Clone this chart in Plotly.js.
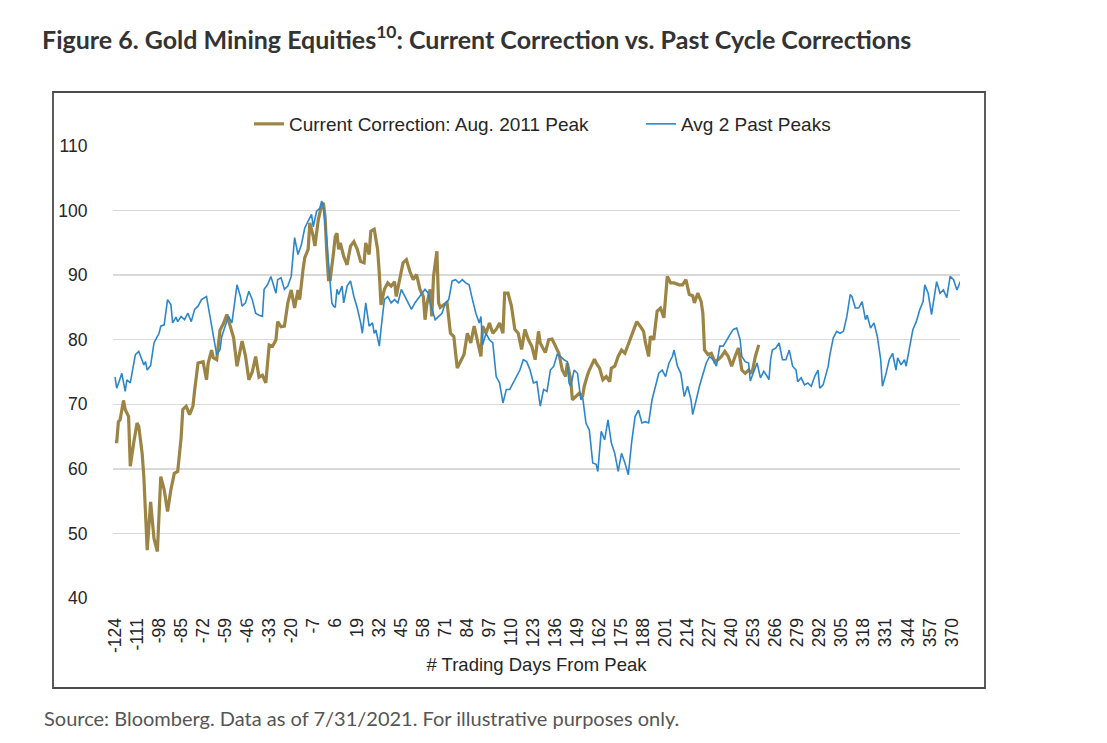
<!DOCTYPE html>
<html>
<head>
<meta charset="utf-8">
<script src="https://cdn.plot.ly/plotly-3.0.1.min.js"></script>
<style>
  html, body { margin: 0; padding: 0; background: #ffffff; }
  #chart { width: 1107px; height: 743px; }
</style>
</head>
<body>
<div id="chart"></div>
<script>
// ---- Data ----
const goldDays = [-124,-123,-122,-121,-119,-118,-116,-115,-113,-111,-110,-108,-107,-105,-103,-101,-99,-97,-95,-93,-91,-89,-87,-85,-84,-82,-80,-78,-77,-75,-72,-70,-69,-67,-66,-64,-62,-60,-58,-56,-54,-52,-49,-47,-45,-43,-41,-39,-37,-35,-33,-31,-29,-28,-26,-24,-22,-20,-18,-16,-15,-13,-12,-10,-9,-7,-6,-4,-2,-1,0,1,2,3,4,5,6,7,8,9,11,13,15,17,19,21,23,24,26,27,29,31,32,33,35,37,39,41,42,44,46,48,50,52,54,56,58,59,60,62,63,64,66,67,68,70,72,74,76,78,80,82,84,86,88,90,92,93,95,97,99,101,103,105,106,108,110,112,114,116,118,120,122,124,126,127,128,130,132,134,136,138,140,142,143,145,146,148,150,152,153,155,156,159,160,162,164,166,168,169,171,173,175,177,180,182,184,186,188,189,191,192,194,196,198,200,202,204,206,209,211,213,215,217,218,220,222,223,224,226,228,230,232,234,236,238,240,242,244,246,248,250,252,254,256];
const goldValues = [64.2,64.2,67.3,67.6,70.6,69.2,68.1,60.4,64.0,67.1,66.6,62.4,58.8,47.4,54.9,49.2,47.2,58.8,56.8,53.4,56.8,59.3,59.6,64.8,69.2,69.7,68.4,69.7,72.2,76.4,76.6,73.8,76.4,78.4,77.2,76.9,81.5,82.5,83.9,82.1,80.3,75.9,79.8,77.5,73.8,75.0,77.4,74.2,74.5,73.3,79.2,79.0,80.0,82.8,82.0,82.1,85.7,87.7,84.9,87.7,86.2,90.9,92.7,94.0,98.1,96.0,94.5,98.6,100.9,101.2,99.0,93.5,89.3,89.3,91.0,93.5,96.0,96.5,94.0,95.0,92.9,91.6,94.5,95.2,94.0,92.1,91.9,95.0,93.2,96.8,97.1,94.0,90.3,85.4,87.8,88.8,88.3,89.0,86.7,89.3,91.9,92.4,90.6,89.3,90.1,87.8,86.7,83.1,85.4,87.8,83.6,89.8,93.7,85.7,85.0,85.4,85.7,81.0,80.5,75.6,76.6,77.7,81.0,79.5,82.1,80.0,77.4,82.1,81.0,82.6,81.0,81.6,82.6,81.0,87.2,87.2,85.2,81.6,81.0,78.5,81.6,80.0,79.0,76.9,81.3,79.5,79.0,78.0,80.0,80.1,79.0,77.9,75.3,74.3,76.4,73.8,70.7,71.2,71.7,71.2,72.8,74.6,75.3,77.0,76.4,75.6,73.8,74.3,73.5,75.6,75.9,77.4,78.4,77.9,80.0,81.3,82.8,82.1,81.3,79.7,77.4,80.5,80.0,84.4,84.9,83.4,89.8,88.8,88.8,88.5,88.5,89.3,87.0,86.8,85.7,87.2,85.9,84.1,78.4,77.7,77.9,76.6,76.9,77.4,78.2,77.4,75.9,77.4,78.7,75.3,74.8,75.3,74.8,77.4,79.2];

const blueDays = [-124,-123,-121,-120,-118,-117,-115,-112,-110,-109,-107,-106,-105,-103,-101,-99,-98,-97,-95,-93,-91,-90,-88,-87,-85,-83,-81,-79,-77,-75,-73,-70,-69,-67,-66,-64,-62,-61,-59,-57,-55,-52,-50,-49,-47,-45,-43,-41,-39,-37,-36,-34,-32,-30,-29,-28,-26,-24,-22,-20,-18,-16,-14,-12,-10,-8,-7,-5,-3,-2,-1,0,1,2,3,4,5,6,7,8,10,11,13,15,17,19,21,22,24,26,28,29,30,32,33,35,37,39,41,43,45,47,49,51,53,56,59,61,62,65,67,69,71,73,75,77,79,81,83,85,87,89,91,92,93,95,97,99,101,103,105,107,109,111,113,115,117,119,121,123,125,127,129,131,133,135,137,139,141,143,144,145,147,149,151,152,154,156,158,160,161,163,165,167,169,171,173,175,177,179,181,183,185,187,189,191,193,195,197,199,201,203,205,206,208,210,212,214,216,217,219,221,223,225,227,229,231,233,235,237,239,241,243,245,246,248,250,251,253,255,257,259,261,262,263,264,266,268,270,272,274,276,278,279,281,283,285,287,289,291,292,294,297,298,300,302,304,306,308,310,311,313,315,317,319,320,322,324,326,328,329,331,333,335,337,338,340,342,343,345,347,349,351,353,354,356,358,361,363,365,367,369,371,373,375];
const blueValues = [74.2,72.5,74.0,74.8,72.0,73.8,73.3,77.7,78.2,77.5,76.1,76.6,75.3,76.0,79.5,80.5,81.0,82.1,82.3,86.2,85.4,82.6,83.5,82.8,83.6,83.1,84.1,82.8,84.7,85.2,86.2,86.7,85.2,82.6,81.0,77.7,78.5,80.5,82.1,83.6,82.6,88.5,86.7,85.2,85.7,87.5,86.2,84.1,83.8,83.6,87.8,88.5,89.8,88.0,87.2,89.3,89.6,87.8,88.3,89.8,95.8,93.2,94.7,97.3,98.4,99.4,97.5,99.9,100.4,101.5,100.5,98.0,95.5,91.9,88.3,85.7,85.2,85.0,87.8,87.0,88.3,85.7,88.3,89.1,86.7,84.9,82.6,81.0,85.7,82.1,82.6,81.0,81.5,79.0,81.6,86.2,86.7,85.7,86.2,85.7,87.8,86.7,85.7,84.7,85.7,86.7,87.8,87.2,85.7,83.1,83.6,84.1,85.7,86.2,89.1,89.3,88.8,89.3,88.8,88.5,86.2,84.1,82.6,83.6,79.2,81.0,80.0,79.5,74.3,73.3,70.2,72.3,72.3,73.3,74.3,75.3,76.9,76.6,75.3,73.3,73.5,69.7,72.3,72.0,75.3,75.9,77.7,77.4,76.9,76.6,73.3,72.8,75.3,74.8,70.7,71.2,67.1,66.0,60.9,60.7,59.6,65.8,64.5,67.6,64.0,62.4,59.6,62.4,60.9,59.1,64.2,68.1,69.1,67.1,67.3,67.1,70.7,72.8,74.8,75.3,74.3,76.4,77.4,78.4,75.9,74.8,71.2,72.8,70.7,68.4,70.7,72.8,74.6,76.4,77.4,76.9,75.9,79.0,79.0,80.0,80.8,81.6,81.8,80.0,77.4,76.6,76.4,73.6,75.0,76.4,74.1,75.1,74.3,73.8,76.9,78.4,78.7,79.5,76.9,76.9,78.4,75.9,75.3,73.5,74.1,73.0,73.3,72.8,74.3,75.3,72.5,73.0,75.9,77.7,80.3,81.3,81.0,81.3,83.6,87.0,86.7,84.9,84.9,85.9,83.1,83.8,81.8,82.6,80.5,76.9,72.8,74.6,76.9,77.9,75.3,77.2,76.1,76.9,75.9,78.7,81.6,82.8,84.6,85.9,88.5,87.2,83.9,89.0,87.2,87.7,86.5,89.8,89.3,87.7,89.0];

const seriesNames = ["Current Correction: Aug. 2011 Peak", "Avg 2 Past Peaks"];
const yTicks = [40, 50, 60, 70, 80, 90, 100, 110];
const xFirstTick = -124, xLastTick = 370, xTickStep = 13;

const chartTitle = "Figure 6. Gold Mining Equities<sup>10</sup>: Current Correction vs. Past Cycle Corrections";
const xTitle = "# Trading Days From Peak";
const sourceNote = "Source: Bloomberg. Data as of 7/31/2021. For illustrative purposes only.";

// x tick labels written with a plain hyphen, as in the reference
const xTickVals = [];
for (let v = xFirstTick; v <= xLastTick; v += xTickStep) xTickVals.push(v);
const xTickText = xTickVals.map(v => String(v));

// ---- Layout geometry ----
const W = 1107, H = 743;
const M = { l: 113, r: 147, t: 146, b: 145 };
const plotW = W - M.l - M.r, plotH = H - M.t - M.b;
const px = x => (x - M.l) / plotW;          // page px -> paper x
const py = y => (H - M.b - y) / plotH;      // page px -> paper y

const traces = [
  {
    x: goldDays, y: goldValues, name: seriesNames[0],
    type: "scatter", mode: "lines",
    line: { color: "#9C8444", width: 3.2 },
    legend: "legend",
    hoverinfo: "skip"
  },
  {
    x: blueDays, y: blueValues, name: seriesNames[1],
    type: "scatter", mode: "lines",
    line: { color: "#2C86CA", width: 1.6 },
    legend: "legend2",
    hoverinfo: "skip"
  }
];

const sansFamily = "Liberation Sans, Arial, sans-serif";
const tickFont = { family: sansFamily, size: 17.5, color: "#262626" };
const textFont = { family: sansFamily, size: 18.5, color: "#262626" };
const legendFont = { family: sansFamily, size: 19, color: "#262626" };

const legendBase = {
  orientation: "h",
  xanchor: "left",
  y: py(124), yanchor: "middle",
  font: legendFont,
  bgcolor: "rgba(0,0,0,0)",
  borderwidth: 0,
  itemwidth: 30
};

const layout = {
  width: W, height: H,
  margin: M,
  paper_bgcolor: "#ffffff",
  plot_bgcolor: "#ffffff",
  showlegend: true,
  title: {
    text: chartTitle,
    font: { family: "Lato, 'Open Sans', sans-serif", size: 25, color: "#333333", weight: "bold" },
    xref: "container", yref: "container",
    x: 42 / W, xanchor: "left",
    y: 1 - 40 / H, yanchor: "middle"
  },
  xaxis: {
    range: [-125.2, 374.8],
    tickmode: "array", tickvals: xTickVals, ticktext: xTickText,
    tickangle: -90,
    tickfont: tickFont,
    ticks: "outside", ticklen: 12, tickcolor: "rgba(0,0,0,0)",
    showgrid: false, zeroline: false, showline: false,
    title: { text: xTitle, font: textFont, standoff: 6 },
    fixedrange: true
  },
  yaxis: {
    range: [40, 110],
    tickmode: "array", tickvals: yTicks,
    tickfont: tickFont,
    ticks: "outside", ticklen: 21, tickcolor: "rgba(0,0,0,0)",
    showgrid: true, gridcolor: "#D9D9D9", gridwidth: 1.5,
    zeroline: false, showline: false,
    fixedrange: true
  },
  legend: Object.assign({}, legendBase, { x: px(249) }),
  legend2: Object.assign({}, legendBase, { x: px(641) }),
  shapes: [
    {
      type: "rect", xref: "paper", yref: "paper",
      x0: px(53), x1: px(985), y0: py(688), y1: py(92),
      line: { color: "#4a4a4a", width: 1.8 },
      fillcolor: "rgba(0,0,0,0)", layer: "below"
    }
  ],
  annotations: [
    {
      text: sourceNote, showarrow: false,
      xref: "paper", yref: "paper",
      x: px(42), xanchor: "left",
      y: py(718), yanchor: "middle",
      font: { family: "Lato, 'Open Sans', sans-serif", size: 20, color: "#555555" }
    }
  ]
};

Plotly.newPlot("chart", traces, layout, { displayModeBar: false, staticPlot: true });
</script>
</body>
</html>
